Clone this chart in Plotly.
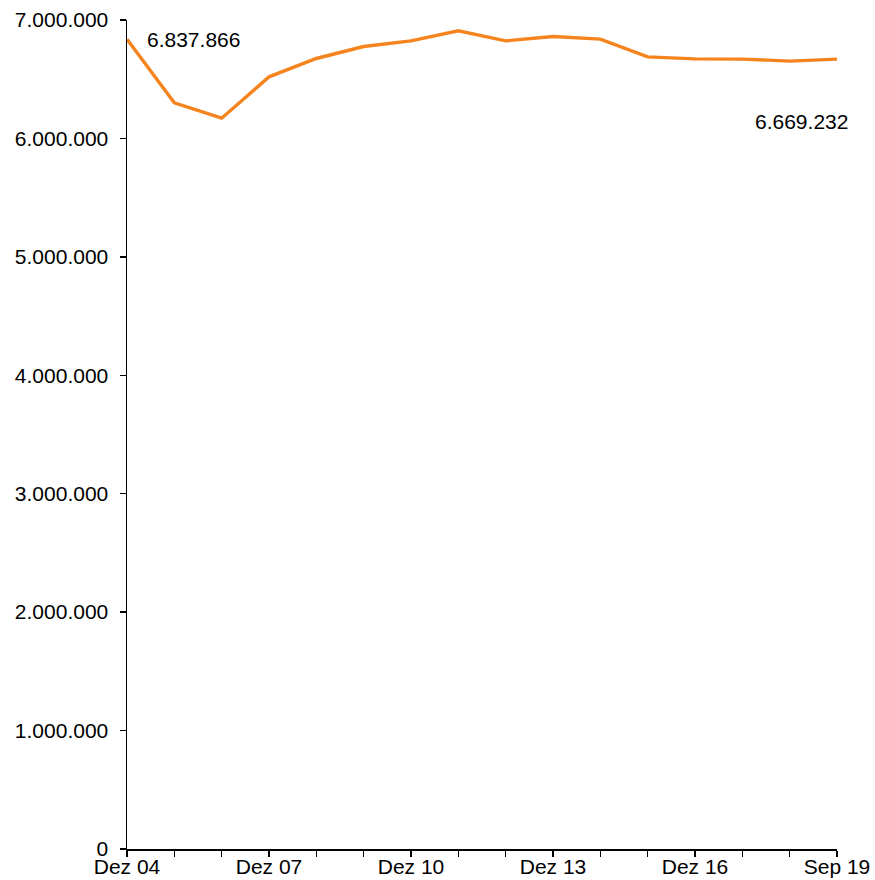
import plotly.graph_objects as go

categories = ["Dez 04", "Dez 05", "Dez 06", "Dez 07", "Dez 08", "Dez 09", "Dez 10", "Dez 11",
              "Dez 12", "Dez 13", "Dez 14", "Dez 15", "Dez 16", "Dez 17", "Dez 18", "Sep 19"]
values = [6837866, 6301000, 6171000, 6520000, 6675000, 6776000, 6824000, 6909000,
          6824000, 6861000, 6839000, 6689000, 6672000, 6670000, 6653000, 6669232]
label_every = 3
tick_text = [c if (i % label_every == 0 or i == len(categories) - 1) else "" for i, c in enumerate(categories)]
y_ticks = [0, 1000000, 2000000, 3000000, 4000000, 5000000, 6000000, 7000000]

FONT = "Liberation Sans, Arial, sans-serif"
ORANGE = "#F5841F"

fig = go.Figure()
fig.add_trace(go.Scatter(
    x=list(range(len(categories))), y=values, mode="lines",
    line=dict(color=ORANGE, width=3.4),
    hoverinfo="skip", showlegend=False,
))

fig.add_annotation(x=0, y=values[0], text="6.837.866", showarrow=False,
                   xanchor="left", yanchor="middle", xshift=18, yshift=0,
                   font=dict(family=FONT, size=21, color="#000"))
fig.add_annotation(x=len(categories) - 1, y=values[-1], text="6.669.232", showarrow=False,
                   xanchor="right", yanchor="middle", xshift=13, yshift=-62,
                   font=dict(family=FONT, size=21, color="#000"))

fig.update_layout(
    width=875, height=880,
    margin=dict(l=127, r=38, t=20, b=31, autoexpand=False),
    paper_bgcolor="white", plot_bgcolor="white",
    separators=",.",
    font=dict(family=FONT, size=21, color="#000"),
    xaxis=dict(
        range=[0, len(categories) - 1],
        tickmode="array", tickvals=list(range(len(categories))), ticktext=tick_text,
        showgrid=False, zeroline=False, showline=True, linecolor="#000", linewidth=1.5,
        ticks="outside", ticklen=6, tickwidth=1.5, tickcolor="#000",
        ticklabelstandoff=-8,
        tickfont=dict(family=FONT, size=21, color="#000"),
        automargin=False, fixedrange=True,
    ),
    yaxis=dict(
        range=[0, 7000000],
        tickmode="array", tickvals=y_ticks,
        tickformat=",d",
        showgrid=False, zeroline=False, showline=True, linecolor="#000", linewidth=1.5,
        ticks="outside", ticklen=6, tickwidth=1.5, tickcolor="#000",
        ticklabelstandoff=7,
        tickfont=dict(family=FONT, size=21, color="#000"),
        automargin=False, fixedrange=True,
    ),
)

fig.write_html("out.html", config={"displayModeBar": False, "staticPlot": True},
               post_script="document.body.style.margin='0';document.body.style.overflow='hidden';")
